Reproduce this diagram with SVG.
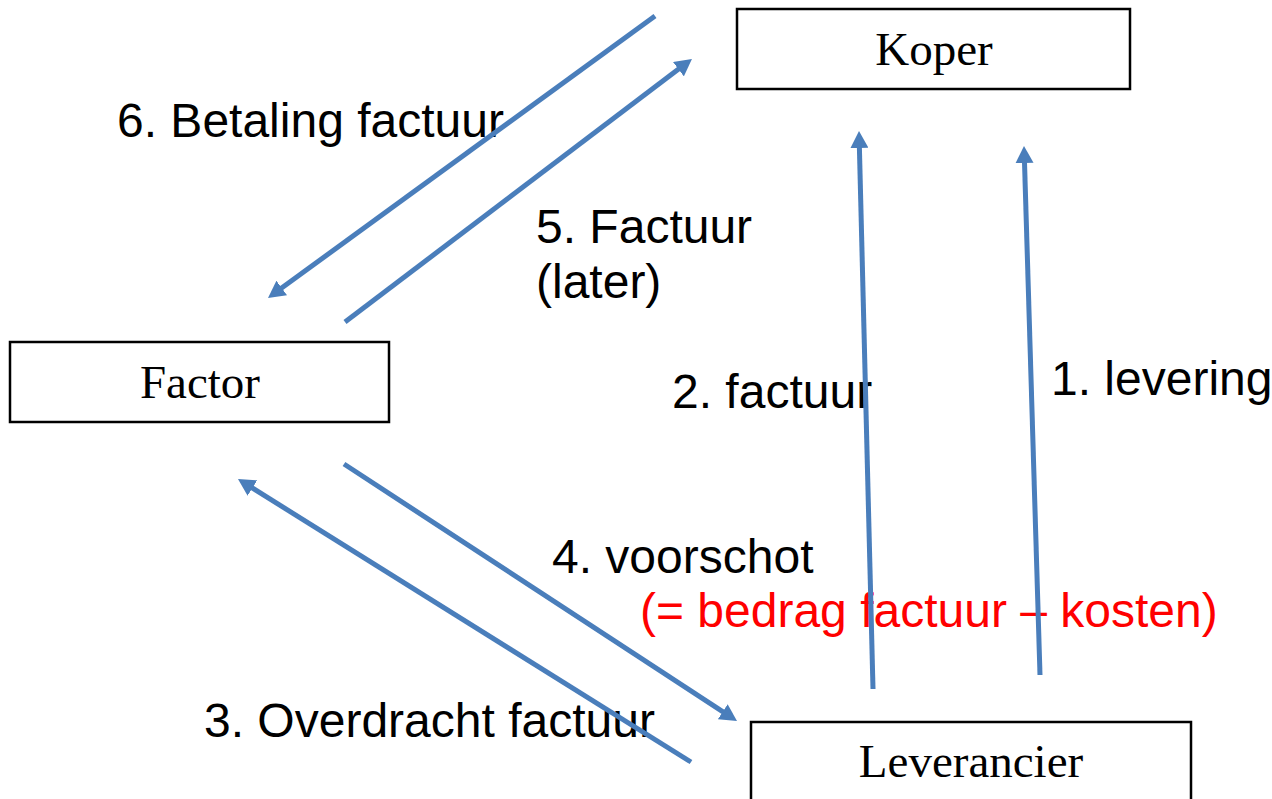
<svg xmlns="http://www.w3.org/2000/svg" width="1272" height="799" viewBox="0 0 1272 799">
  <style>
    .box { fill: #ffffff; stroke: #000000; stroke-width: 2.5; }
    .node-text { font-family: "Liberation Serif", "Times New Roman", serif; font-size: 47px; fill: #000000; text-anchor: middle; }
    .label { font-family: "Liberation Sans", Arial, sans-serif; font-size: 48px; fill: #000000; }
    .label.red { fill: #ff0000; }
    .flow { fill: none; stroke: #4a7ebb; stroke-width: 5; marker-end: url(#head); }
  </style>
  <defs>
    <marker id="head" markerUnits="userSpaceOnUse" markerWidth="17" markerHeight="18" viewBox="0 0 17 18" refX="4" refY="9" orient="auto">
      <path d="M0,0 L17,9 L0,18 Z" fill="#4a7ebb"/>
    </marker>
  </defs>

  <rect width="1272" height="799" fill="#ffffff"/>

  <!-- Parties -->
  <g id="node-koper">
    <rect class="box" x="737" y="9" width="393" height="80"/>
    <text class="node-text" x="934" y="65">Koper</text>
  </g>
  <g id="node-factor">
    <rect class="box" x="10" y="342" width="379" height="80"/>
    <text class="node-text" x="200" y="398">Factor</text>
  </g>
  <g id="node-leverancier">
    <rect class="box" x="751" y="722" width="440" height="90"/>
    <text class="node-text" x="971" y="777">Leverancier</text>
  </g>

  <!-- Step labels -->
  <g id="labels">
    <text class="label" x="117" y="137">6. Betaling factuur</text>
    <text class="label" x="536" y="243">5. Factuur</text>
    <text class="label" x="536" y="298">(later)</text>
    <text class="label" x="672" y="408">2. factuur</text>
    <text class="label" x="1051" y="395">1. levering</text>
    <text class="label" x="552" y="573">4. voorschot</text>
    <text class="label red" x="640" y="627">(= bedrag factuur – kosten)</text>
    <text class="label" x="204" y="737">3. Overdracht factuur</text>
  </g>

  <!-- Flows between the parties -->
  <g id="connectors">
    <line class="flow" x1="655" y1="16" x2="278.5" y2="290.3"/>
    <line class="flow" x1="345" y1="322" x2="681.6" y2="66.8"/>
    <line class="flow" x1="873" y1="689" x2="859.3" y2="144"/>
    <line class="flow" x1="1040" y1="675" x2="1024.4" y2="159"/>
    <line class="flow" x1="344" y1="464" x2="726.1" y2="713.9"/>
    <line class="flow" x1="691" y1="762" x2="249.0" y2="485.9"/>
  </g>
</svg>
